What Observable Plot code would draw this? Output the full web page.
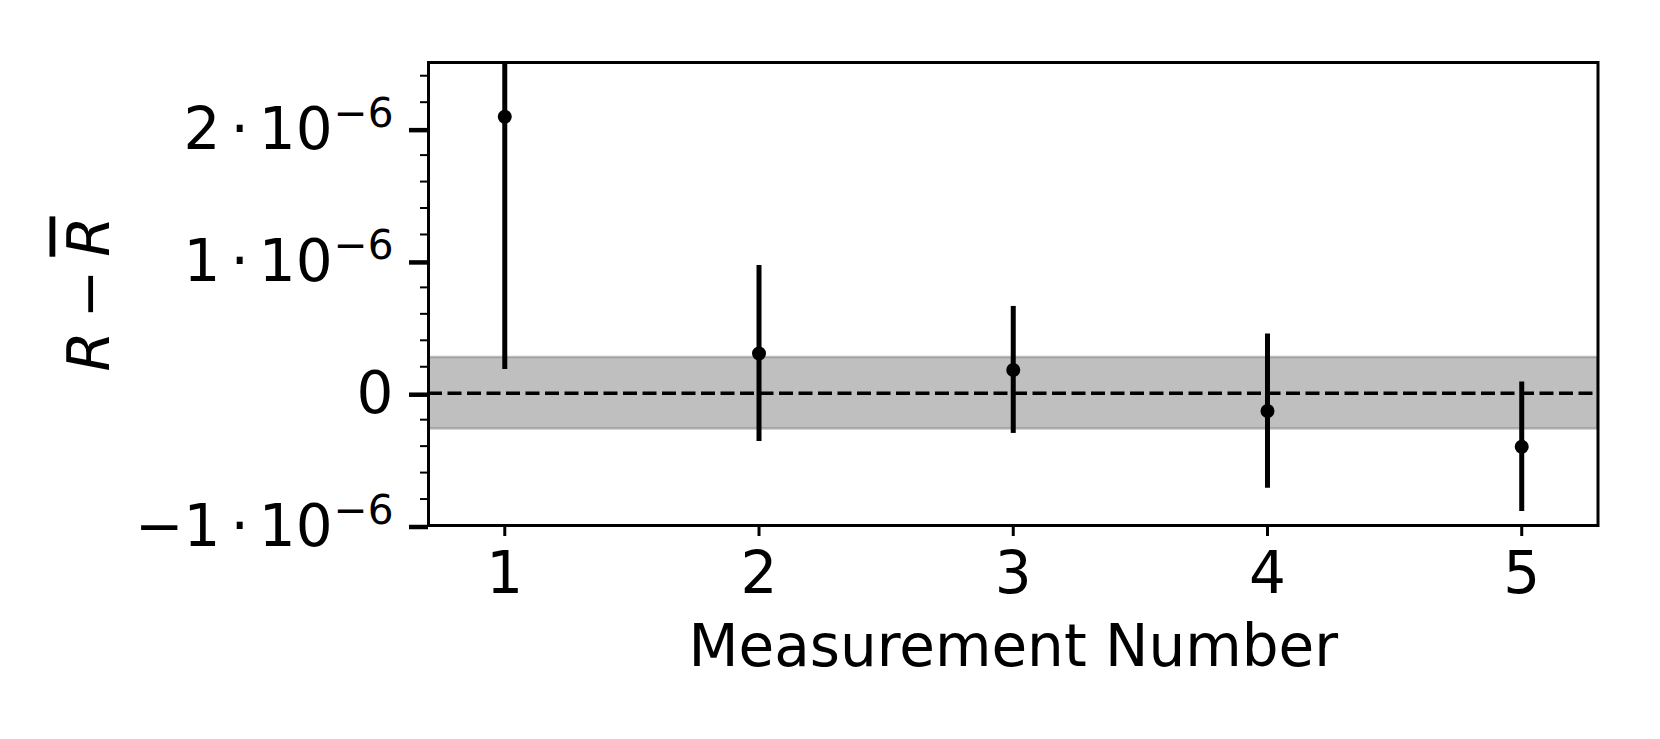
<!DOCTYPE html>
<html>
<head>
<meta charset="utf-8">
<script src="https://cdn.jsdelivr.net/npm/d3@7"></script>
<script src="https://cdn.jsdelivr.net/npm/@observablehq/plot@0.6"></script>
<style>
  html, body { margin: 0; padding: 0; background: #fff; }
  #chart { width: 1660px; height: 739px; }
</style>
</head>
<body>
<div id="chart"></div>
<script>
// ---- Data ----
const measurementNumbers = [1, 2, 3, 4, 5];
const deviations = [2.09e-6, 0.30e-6, 0.176e-6, -0.135e-6, -0.405e-6];
const uncertainties = [1.91e-6, 0.665e-6, 0.48e-6, 0.583e-6, 0.49e-6];
const meanUncertainty = [0.27e-6];
const zeroLine = [0];

// ---- Axes ----
const xDomain = [0.7, 5.3];
const yDomain = [-1e-6, 2.5e-6];
const xTicks = [1, 2, 3, 4, 5];
const yTicks = [-1e-6, 0, 1e-6, 2e-6];
const yTickMantissas = ["−1", "0", "1", "2"];
const yTickExponent = "−6";
const yMinorTicks = [-0.8e-6, -0.6e-6, -0.4e-6, -0.2e-6, 0.2e-6, 0.4e-6, 0.6e-6, 0.8e-6,
                     1.2e-6, 1.4e-6, 1.6e-6, 1.8e-6, 2.2e-6, 2.4e-6];
const xLabel = ["Measurement Number"];
const yLabel = ["R − R"];

const data = measurementNumbers.map((m, i) => ({m, dev: deviations[i], err: uncertainties[i]}));

const FS = 58;

const chart = Plot.plot({
  width: 1660,
  height: 739,
  marginLeft: 428,
  marginRight: 62.5,
  marginTop: 62,
  marginBottom: 214,
  style: {fontFamily: "DejaVu Sans", background: "#fff", color: "#000", overflow: "visible"},
  x: {domain: xDomain},
  y: {domain: yDomain},
  marks: [
    Plot.rectY(meanUncertainty, {
      x1: () => xDomain[0], x2: () => xDomain[1],
      y1: d => -d, y2: d => d,
      fill: "gray", fillOpacity: 0.5,
      stroke: "gray", strokeOpacity: 0.5, strokeWidth: 2.5,
      clip: true
    }),
    Plot.ruleY(zeroLine, {stroke: "black", strokeWidth: 3.5, strokeDasharray: "14,5.5"}),
    Plot.ruleX(data, {
      x: "m", y1: d => d.dev - d.err, y2: d => d.dev + d.err,
      stroke: "black", strokeWidth: 5, clip: true
    }),
    Plot.dot(data, {x: "m", y: "dev", r: 7, fill: "black", stroke: "none"}),
    Plot.frame({stroke: "black", strokeWidth: 3}),
    Plot.axisX({ticks: xTicks, tickSize: 11, strokeWidth: 3, tickPadding: 15,
                fontSize: FS, label: null, tickFormat: d => String(d)}),
    Plot.axisY({ticks: yMinorTicks, tickSize: 8, strokeWidth: 2, label: null,
                tickFormat: () => ""}),
    Plot.axisY({ticks: yTicks, tickSize: 19, strokeWidth: 4.5, tickPadding: 16, dy: 1.5,
                fontSize: FS, label: null,
                tickFormat: d => yTickMantissas[yTicks.indexOf(d)],
                ariaLabel: "y-major"}),
    Plot.text(xLabel, {frameAnchor: "bottom", dy: 140, lineAnchor: "bottom",
                       textAnchor: "middle", fontSize: FS, fill: "black"}),
    Plot.text(yLabel, {frameAnchor: "left", dx: -320, rotate: -90, lineAnchor: "bottom",
                       textAnchor: "middle", fontSize: FS, fill: "black", ariaLabel: "y-label"})
  ]
});

document.getElementById("chart").appendChild(chart);

// Rebuild y tick labels as mantissa · 10^exponent
const svg = d3.select(chart.tagName.toLowerCase() === "svg" ? chart : chart.querySelector("svg"));
svg.selectAll("text").each(function () {
  const m = this.textContent;
  if (!yTickMantissas.includes(m) || m === "0") return;
  const g = this.closest("g");
  if (!g || g.getAttribute("text-anchor") !== "end") return;
  this.textContent = "";
  const t = d3.select(this);
  t.append("tspan").text(m);
  t.append("tspan").attr("dx", 10).text("·");
  t.append("tspan").attr("dx", 10).text("10");
  t.append("tspan").attr("dx", 1).attr("dy", -22).attr("font-size", FS * 0.7).text(yTickExponent);
});

// Rebuild y label with italic R and overlined R
svg.selectAll("text").each(function () {
  if (this.textContent !== yLabel[0]) return;
  this.textContent = "";
  const t = d3.select(this);
  t.append("tspan").attr("font-style", "italic").text("R");
  t.append("tspan").attr("dx", 13).text("−");
  t.append("tspan").attr("dx", 13).attr("font-style", "italic")
    .style("text-decoration", "overline").text("R");
});
</script>
</body>
</html>
